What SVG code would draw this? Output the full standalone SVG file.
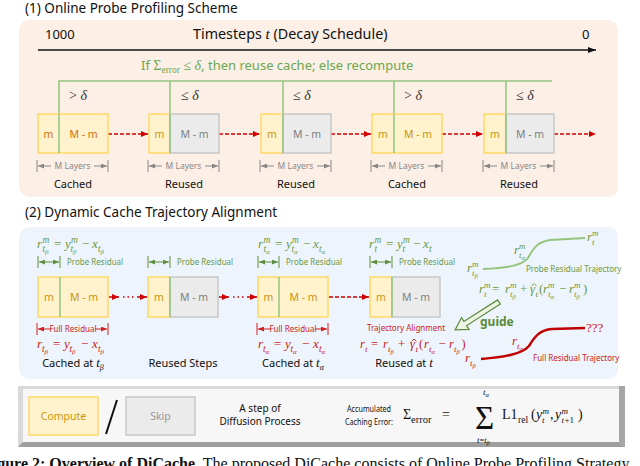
<svg xmlns="http://www.w3.org/2000/svg" width="640" height="466" viewBox="0 0 640 466">
<style>
.t{font-family:"Noto Sans","DejaVu Sans",sans-serif}
.ser{font-family:"Liberation Serif","Times New Roman",serif}
.it{font-style:italic}
.up{font-style:normal}
.ttl{font-size:13.5px;fill:#111}
.cy{fill:#fff2cc;stroke:#ffd966;stroke-width:1.5}
.cg{fill:#ebebeb;stroke:#c8c8c8;stroke-width:1.5}
.gl{stroke:#93c47d;stroke-width:1.5;fill:none}
.mt{font-size:10.5px;fill:#c8960c;text-anchor:middle}
.mo{font-size:10.5px;fill:#d0700a;text-anchor:middle}
.mg{font-size:10.5px;fill:#808080;text-anchor:middle}
.lbl{font-size:11px;fill:#111;text-anchor:middle}
.dim{font-size:8.5px;fill:#888;text-anchor:middle}
.dl{stroke:#888;stroke-width:1;fill:none}
.gdl{stroke:#5f8f3e;stroke-width:1;fill:none}
.rdl{stroke:#cc2222;stroke-width:1;fill:none}
.rd{stroke:#cc0000;stroke-width:1.5;stroke-dasharray:4 2;fill:none}
.rdot{stroke:#cc0000;stroke-width:1.5;stroke-dasharray:1.5 3;fill:none}
.gf{fill:#6a9a46}
.rf{fill:#cc2222}
.gs{font-size:8px;fill:#6a9a46}
.rs{font-size:8px;fill:#cc2222}
.dl14{font-size:14px;fill:#333}
.hatg{stroke:#6a9a46;stroke-width:0.9;fill:none}
.hatr{stroke:#cc2222;stroke-width:0.9;fill:none}
</style>
<defs>
<marker id="ab" markerWidth="8" markerHeight="6" refX="8" refY="3" orient="auto" markerUnits="userSpaceOnUse"><path d="M0,0 L8,3 L0,6 z" fill="#111"/></marker>
<marker id="ar" markerWidth="7" markerHeight="6" refX="7" refY="3" orient="auto" markerUnits="userSpaceOnUse"><path d="M0,0 L7,3 L0,6 z" fill="#cc0000"/></marker>
<marker id="agr" markerWidth="6" markerHeight="5" refX="6" refY="2.5" orient="auto" markerUnits="userSpaceOnUse"><path d="M0,0 L6,2.5 L0,5 z" fill="#888"/></marker>
<marker id="agn" markerWidth="6" markerHeight="5" refX="6" refY="2.5" orient="auto-start-reverse" markerUnits="userSpaceOnUse"><path d="M0,0 L6,2.5 L0,5 z" fill="#5f8f3e"/></marker>
<marker id="ard" markerWidth="6" markerHeight="5" refX="6" refY="2.5" orient="auto" markerUnits="userSpaceOnUse"><path d="M0,0 L6,2.5 L0,5 z" fill="#cc2222"/></marker>
</defs>

<!-- Section 1 -->
<text class="t ttl" x="25" y="13">(1) Online Probe Profiling Scheme</text>
<rect x="19" y="20" width="599" height="177" rx="10" fill="#fcefe6"/>
<text class="t" font-size="13" fill="#111" x="45" y="39">1000</text>
<text class="t" font-size="14.3" fill="#111" x="193" y="39">Timesteps <tspan class="ser it" font-size="15.5">t</tspan> (Decay Schedule)</text>
<text class="t" font-size="13" fill="#111" x="582" y="39">0</text>
<text class="t" font-size="13" fill="#6aa84f" x="141" y="70">If <tspan class="ser" font-size="14">Σ</tspan><tspan class="ser" font-size="9.5" dy="3">error</tspan><tspan class="ser" font-size="14" dy="-3"> ≤ </tspan><tspan class="ser it" font-size="14">δ</tspan>, then reuse cache; else recompute</text>

<g id="s1-connectors">
<line x1="38" y1="50" x2="596" y2="50" stroke="#111" stroke-width="1.5" marker-end="url(#ab)"/>
<path class="gl" d="M59,153 V81 H552 M170,81 V153 M283,81 V153 M394,81 V153 M506,81 V153"/>
<line class="rd" x1="108" y1="134" x2="148" y2="134" marker-end="url(#ar)"/>
<line class="rd" x1="219" y1="134" x2="260" y2="134" marker-end="url(#ar)"/>
<line class="rd" x1="331" y1="134" x2="371" y2="134" marker-end="url(#ar)"/>
<line class="rd" x1="442" y1="134" x2="483" y2="134" marker-end="url(#ar)"/>
<line class="rd" x1="554" y1="134" x2="596" y2="134" marker-end="url(#ar)"/>
</g>
<text class="ser dl14" x="69" y="100">&gt; <tspan class="it">δ</tspan></text>
<text class="ser dl14" x="181" y="100">≤ <tspan class="it">δ</tspan></text>
<text class="ser dl14" x="293" y="100">≤ <tspan class="it">δ</tspan></text>
<text class="ser dl14" x="404" y="100">&gt; <tspan class="it">δ</tspan></text>
<text class="ser dl14" x="516" y="100">≤ <tspan class="it">δ</tspan></text>

<g id="s1-n1" transform="translate(38,0)">
<rect class="cy" x="0" y="114" width="70" height="39"/>
<text class="t mo" x="10.5" y="137.5">m</text><text class="t mo" x="45.5" y="137.5">M - m</text>
<path class="dl" d="M-1,160 V172 M70,160 V172"/>
<line class="dl" x1="13" y1="166" x2="0" y2="166" marker-end="url(#agr)"/>
<line class="dl" x1="56" y1="166" x2="69" y2="166" marker-end="url(#agr)"/>
<text class="t dim" x="34.5" y="169">M Layers</text>
<text class="t lbl" x="35" y="188">Cached</text>
</g>
<g id="s1-n2" transform="translate(149,0)">
<rect class="cy" x="0" y="114" width="21" height="39"/><rect class="cg" x="21" y="114" width="49" height="39"/>
<text class="t mt" x="10.5" y="137.5">m</text><text class="t mg" x="45.5" y="137.5">M - m</text>
<path class="dl" d="M-1,160 V172 M70,160 V172"/>
<line class="dl" x1="13" y1="166" x2="0" y2="166" marker-end="url(#agr)"/>
<line class="dl" x1="56" y1="166" x2="69" y2="166" marker-end="url(#agr)"/>
<text class="t dim" x="34.5" y="169">M Layers</text>
<text class="t lbl" x="35" y="188">Reused</text>
</g>
<g id="s1-n3" transform="translate(261,0)">
<rect class="cy" x="0" y="114" width="22" height="39"/><rect class="cg" x="22" y="114" width="48" height="39"/>
<text class="t mt" x="11" y="137.5">m</text><text class="t mg" x="46" y="137.5">M - m</text>
<path class="dl" d="M-1,160 V172 M70,160 V172"/>
<line class="dl" x1="13" y1="166" x2="0" y2="166" marker-end="url(#agr)"/>
<line class="dl" x1="56" y1="166" x2="69" y2="166" marker-end="url(#agr)"/>
<text class="t dim" x="34.5" y="169">M Layers</text>
<text class="t lbl" x="35" y="188">Reused</text>
</g>
<g id="s1-n4" transform="translate(372,0)">
<rect class="cy" x="0" y="114" width="70" height="39"/>
<text class="t mt" x="11" y="137.5">m</text><text class="t mt" x="46" y="137.5">M - m</text>
<path class="dl" d="M-1,160 V172 M70,160 V172"/>
<line class="dl" x1="13" y1="166" x2="0" y2="166" marker-end="url(#agr)"/>
<line class="dl" x1="56" y1="166" x2="69" y2="166" marker-end="url(#agr)"/>
<text class="t dim" x="34.5" y="169">M Layers</text>
<text class="t lbl" x="35" y="188">Cached</text>
</g>
<g id="s1-n5" transform="translate(484,0)">
<rect class="cy" x="0" y="114" width="22" height="39"/><rect class="cg" x="22" y="114" width="48" height="39"/>
<text class="t mt" x="11" y="137.5">m</text><text class="t mg" x="46" y="137.5">M - m</text>
<path class="dl" d="M-1,160 V172 M70,160 V172"/>
<line class="dl" x1="13" y1="166" x2="0" y2="166" marker-end="url(#agr)"/>
<line class="dl" x1="56" y1="166" x2="69" y2="166" marker-end="url(#agr)"/>
<text class="t dim" x="34.5" y="169">M Layers</text>
<text class="t lbl" x="35" y="188">Reused</text>
</g>
<path class="gl" d="M59,153 V114 M170,153 V114 M283,153 V114 M394,153 V114 M506,153 V114"/>

<!-- Section 2 -->
<text class="t ttl" x="25" y="217">(2) Dynamic Cache Trajectory Alignment</text>
<rect x="19" y="227" width="599" height="152" rx="10" fill="#eef4fb"/>

<g id="s2-connectors">
<line class="rd" x1="109" y1="297" x2="119" y2="297" marker-end="url(#ar)"/>
<line class="rdot" x1="123" y1="297" x2="134" y2="297"/>
<line class="rd" x1="137" y1="297" x2="147" y2="297" marker-end="url(#ar)"/>
<line class="rd" x1="219" y1="297" x2="229" y2="297" marker-end="url(#ar)"/>
<line class="rdot" x1="233" y1="297" x2="244" y2="297"/>
<line class="rd" x1="247" y1="297" x2="257" y2="297" marker-end="url(#ar)"/>
<line class="rd" x1="329" y1="297" x2="369" y2="297" marker-end="url(#ar)"/>
</g>

<g id="s2-n1" transform="translate(38,0)">
<rect class="cy" x="0" y="277" width="70" height="40"/>
<line class="gl" x1="22" y1="277" x2="22" y2="317"/>
<text class="t mt" x="11" y="301">m</text><text class="t mt" x="46" y="301">M - m</text>
<path class="gdl" d="M0,256 V268 M22,256 V268"/>
<line class="gdl" x1="1" y1="262" x2="21" y2="262" marker-start="url(#agn)" marker-end="url(#agn)"/>
<text class="t gs" x="29" y="265">Probe Residual</text>
<path class="rdl" d="M-1,323 V335 M70,323 V335"/>
<line class="rdl" x1="13" y1="329" x2="0" y2="329" marker-end="url(#ard)"/>
<line class="rdl" x1="57" y1="329" x2="69" y2="329" marker-end="url(#ard)"/>
<text class="t rs" x="35" y="332" text-anchor="middle">Full Residual</text>
<text class="t lbl" x="35" y="367" font-size="11.5">Cached at <tspan class="ser it" font-size="13">t</tspan><tspan class="ser it" font-size="8" dy="3">β</tspan></text>
</g>
<g id="s2-n2" transform="translate(148,0)">
<rect class="cy" x="0" y="277" width="22" height="40"/><rect class="cg" x="22" y="277" width="48" height="40"/>
<line class="gl" x1="22" y1="277" x2="22" y2="317"/>
<text class="t mt" x="11" y="301">m</text><text class="t mg" x="46" y="301">M - m</text>
<path class="gdl" d="M0,256 V268 M22,256 V268"/>
<line class="gdl" x1="1" y1="262" x2="21" y2="262" marker-start="url(#agn)" marker-end="url(#agn)"/>
<text class="t gs" x="29" y="265">Probe Residual</text>
<text class="t lbl" x="35" y="367" font-size="11.5">Reused Steps</text>
</g>
<g id="s2-n3" transform="translate(258,0)">
<rect class="cy" x="0" y="277" width="70" height="40"/>
<line class="gl" x1="21" y1="277" x2="21" y2="317"/>
<text class="t mt" x="10.5" y="301">m</text><text class="t mt" x="45.5" y="301">M - m</text>
<path class="gdl" d="M0,256 V268 M21,256 V268"/>
<line class="gdl" x1="1" y1="262" x2="20" y2="262" marker-start="url(#agn)" marker-end="url(#agn)"/>
<text class="t gs" x="28" y="265">Probe Residual</text>
<path class="rdl" d="M-1,323 V335 M70,323 V335"/>
<line class="rdl" x1="13" y1="329" x2="0" y2="329" marker-end="url(#ard)"/>
<line class="rdl" x1="57" y1="329" x2="69" y2="329" marker-end="url(#ard)"/>
<text class="t rs" x="35" y="332" text-anchor="middle">Full Residual</text>
<text class="t lbl" x="35" y="367" font-size="11.5">Cached at <tspan class="ser it" font-size="13">t</tspan><tspan class="ser it" font-size="8" dy="3">α</tspan></text>
</g>
<g id="s2-n4" transform="translate(370,0)">
<rect class="cy" x="0" y="277" width="22" height="40"/><rect class="cg" x="22" y="277" width="48" height="40"/>
<line class="gl" x1="22" y1="277" x2="22" y2="317"/>
<text class="t mt" x="11" y="301">m</text><text class="t mg" x="46" y="301">M - m</text>
<path class="gdl" d="M0,256 V268 M22,256 V268"/>
<line class="gdl" x1="1" y1="262" x2="21" y2="262" marker-start="url(#agn)" marker-end="url(#agn)"/>
<text class="t gs" x="29" y="265">Probe Residual</text>
<text class="t rs" x="36" y="331" text-anchor="middle">Trajectory Alignment</text>
<text class="t lbl" x="34" y="367" font-size="11.5">Reused at <tspan class="ser it" font-size="13">t</tspan></text>
</g>

<!-- formulas above boxes (green) -->
<text class="ser it gf" font-size="13">
<tspan x="37" y="248">r</tspan><tspan x="42.5" y="243" font-size="9.5">m</tspan><tspan x="42.5" y="252" font-size="9.5">t</tspan><tspan x="45" y="254" font-size="7">β</tspan>
<tspan class="up" x="54" y="248">=</tspan>
<tspan x="65" y="248">y</tspan><tspan x="71" y="243" font-size="9.5">m</tspan><tspan x="70.5" y="252" font-size="9.5">t</tspan><tspan x="73" y="254" font-size="7">β</tspan>
<tspan class="up" x="82" y="248">−</tspan>
<tspan x="92" y="248">x</tspan><tspan x="98" y="252" font-size="9.5">t</tspan><tspan x="100.5" y="254" font-size="7">β</tspan>
</text>
<text class="ser it gf" font-size="13">
<tspan x="258" y="248">r</tspan><tspan x="263.5" y="243" font-size="9.5">m</tspan><tspan x="263.5" y="252" font-size="9.5">t</tspan><tspan x="266" y="254" font-size="7">α</tspan>
<tspan class="up" x="275" y="248">=</tspan>
<tspan x="286" y="248">y</tspan><tspan x="292" y="243" font-size="9.5">m</tspan><tspan x="291.5" y="252" font-size="9.5">t</tspan><tspan x="294" y="254" font-size="7">α</tspan>
<tspan class="up" x="303" y="248">−</tspan>
<tspan x="313" y="248">x</tspan><tspan x="319" y="252" font-size="9.5">t</tspan><tspan x="321.5" y="254" font-size="7">α</tspan>
</text>
<text class="ser it gf" font-size="13">
<tspan x="369" y="248">r</tspan><tspan x="374.5" y="243" font-size="9.5">m</tspan><tspan x="374.5" y="252" font-size="9.5">t</tspan>
<tspan class="up" x="386" y="248">=</tspan>
<tspan x="397" y="248">y</tspan><tspan x="403" y="243" font-size="9.5">m</tspan><tspan x="402.5" y="252" font-size="9.5">t</tspan>
<tspan class="up" x="413" y="248">−</tspan>
<tspan x="423" y="248">x</tspan><tspan x="429" y="252" font-size="9.5">t</tspan>
</text>

<!-- formulas below boxes (red) -->
<text class="ser it rf" font-size="13">
<tspan x="37" y="348">r</tspan><tspan x="42" y="351.5" font-size="9.5">t</tspan><tspan x="44.5" y="353.5" font-size="7">β</tspan>
<tspan class="up" x="53" y="348">=</tspan>
<tspan x="64" y="348">y</tspan><tspan x="69.5" y="351.5" font-size="9.5">t</tspan><tspan x="72" y="353.5" font-size="7">β</tspan>
<tspan class="up" x="81" y="348">−</tspan>
<tspan x="92" y="348">x</tspan><tspan x="98" y="351.5" font-size="9.5">t</tspan><tspan x="100.5" y="353.5" font-size="7">β</tspan>
</text>
<text class="ser it rf" font-size="13">
<tspan x="258" y="348">r</tspan><tspan x="263" y="351.5" font-size="9.5">t</tspan><tspan x="265.5" y="353.5" font-size="7">α</tspan>
<tspan class="up" x="274" y="348">=</tspan>
<tspan x="285" y="348">y</tspan><tspan x="290.5" y="351.5" font-size="9.5">t</tspan><tspan x="293" y="353.5" font-size="7">α</tspan>
<tspan class="up" x="302" y="348">−</tspan>
<tspan x="313" y="348">x</tspan><tspan x="319" y="351.5" font-size="9.5">t</tspan><tspan x="321.5" y="353.5" font-size="7">α</tspan>
</text>
<text class="ser it rf" font-size="12.5">
<tspan x="360" y="348">r</tspan><tspan x="365" y="351.5" font-size="9">t</tspan>
<tspan class="up" x="371" y="348">=</tspan>
<tspan x="383" y="348">r</tspan><tspan x="388" y="351.5" font-size="9">t</tspan><tspan x="390.5" y="353.5" font-size="6.5">β</tspan>
<tspan class="up" x="398" y="348">+</tspan>
<tspan x="410" y="348">γ</tspan><tspan x="415.5" y="351.5" font-size="9">t</tspan>
<tspan class="up" x="419" y="348">(</tspan>
<tspan x="424" y="348">r</tspan><tspan x="429" y="351.5" font-size="9">t</tspan><tspan x="431.5" y="353.5" font-size="6.5">α</tspan>
<tspan class="up" x="438.5" y="348">−</tspan>
<tspan x="449" y="348">r</tspan><tspan x="454" y="351.5" font-size="9">t</tspan><tspan x="456.5" y="353.5" font-size="6.5">β</tspan>
<tspan class="up" x="461.5" y="348">)</tspan>
</text>
<path class="hatr" d="M411.5,341.5 L414,339 L416.5,341.5"/>

<!-- trajectories -->
<g id="probe-trajectory">
<path d="M483,269 C505,268 522,266 528,258 C534,247 538,242 550,240 L585,238" stroke="#93c47d" stroke-width="2" fill="none"/>
<text class="ser it gf" font-size="13">
<tspan x="467" y="272">r</tspan><tspan x="472" y="267" font-size="9">m</tspan><tspan x="472" y="276" font-size="9">t</tspan><tspan x="474.5" y="278" font-size="6.5">β</tspan>
</text>
<text class="ser it gf" font-size="13">
<tspan x="514" y="254">r</tspan><tspan x="519" y="249" font-size="9">m</tspan><tspan x="519" y="258" font-size="9">t</tspan><tspan x="521.5" y="260" font-size="6.5">α</tspan>
</text>
<text class="ser it gf" font-size="13">
<tspan x="587" y="241">r</tspan><tspan x="592" y="236" font-size="9">m</tspan><tspan x="592" y="245" font-size="9">t</tspan>
</text>
<text class="t gs" x="526" y="272">Probe Residual Trajectory</text>
</g>
<text class="ser it gf" font-size="13">
<tspan x="479" y="293">r</tspan><tspan x="484" y="288" font-size="9">m</tspan><tspan x="484" y="297" font-size="9">t</tspan>
<tspan class="up" x="492" y="293">=</tspan>
<tspan x="505" y="293">r</tspan><tspan x="510" y="288" font-size="9">m</tspan><tspan x="510" y="297" font-size="9">t</tspan><tspan x="512.5" y="299" font-size="6.5">β</tspan>
<tspan class="up" x="520" y="293">+</tspan>
<tspan x="530" y="293">γ</tspan><tspan x="535.5" y="297" font-size="9">t</tspan>
<tspan class="up" x="539" y="293">(</tspan>
<tspan x="543" y="293">r</tspan><tspan x="548" y="288" font-size="9">m</tspan><tspan x="548" y="297" font-size="9">t</tspan><tspan x="550.5" y="299" font-size="6.5">α</tspan>
<tspan class="up" x="559" y="293">−</tspan>
<tspan x="569" y="293">r</tspan><tspan x="574" y="288" font-size="9">m</tspan><tspan x="574" y="297" font-size="9">t</tspan><tspan x="576.5" y="299" font-size="6.5">β</tspan>
<tspan class="up" x="583" y="293">)</tspan>
</text>
<path class="hatg" d="M531.5,286 L534,283.5 L536.5,286"/>
<g id="guide">
<polygon points="0,-2.5 40,-2.5 40,-7 52,0 40,7 40,2.5 0,2.5" transform="translate(499,302) rotate(147.5)" fill="#eef5e4" stroke="#5a8a3a" stroke-width="1.2"/>
<text class="t" font-size="12" fill="#5a8a3a" font-weight="bold" x="480" y="326">guide</text>
</g>
<g id="full-trajectory">
<path d="M481,359 C505,357 522,354 529,346 C535,336 540,330 552,329 L585,328" stroke="#c00000" stroke-width="2.5" fill="none"/>
<text class="ser it rf" font-size="13">
<tspan x="465" y="362">r</tspan><tspan x="470" y="365.5" font-size="9">t</tspan><tspan x="472.5" y="367.5" font-size="6.5">β</tspan>
</text>
<text class="ser it rf" font-size="13">
<tspan x="512" y="345">r</tspan><tspan x="517" y="348.5" font-size="9">t</tspan><tspan x="519.5" y="350.5" font-size="6.5">α</tspan>
</text>
<text class="ser rf" font-size="13" x="586" y="332">???</text>
<text class="t rs" x="533" y="361">Full Residual Trajectory</text>
</g>

<!-- legend -->
<g id="legend">
<rect x="18" y="386" width="607" height="61" fill="#d9d9d9"/>
<polygon points="619,386 625,386 625,447 619,442" fill="#a6a6a6"/>
<polygon points="18,447 625,447 619,442 23,442" fill="#9e9e9e"/>
<rect x="23" y="389" width="596" height="53" fill="#f7f7f7"/>
<rect class="cy" x="29" y="397" width="69" height="38"/>
<text class="t" font-size="10.5" fill="#c8960c" text-anchor="middle" x="63.5" y="420">Compute</text>
<line x1="106" y1="434" x2="117" y2="400" stroke="#111" stroke-width="2"/>
<rect class="cg" x="126" y="397" width="69" height="38"/>
<text class="t" font-size="10.5" fill="#999" text-anchor="middle" x="160.5" y="420">Skip</text>
<text class="t" font-size="10" fill="#111" text-anchor="middle" x="260" y="412">A step of</text>
<text class="t" font-size="10" fill="#111" text-anchor="middle" x="260" y="425">Diffusion Process</text>
<text class="t" font-size="8" fill="#111" text-anchor="middle" x="369" y="412" textLength="44" lengthAdjust="spacingAndGlyphs">Accumulated</text>
<text class="t" font-size="8" fill="#111" text-anchor="middle" x="369" y="425" textLength="48" lengthAdjust="spacingAndGlyphs">Caching Error:</text>
<text class="ser" font-size="14" fill="#111">
<tspan x="403" y="419">Σ</tspan><tspan x="411" y="422.5" font-size="10.5">error</tspan>
<tspan x="442" y="419">=</tspan>
</text>
<text class="ser" font-size="33" fill="#111" x="475" y="429">Σ</text>
<text class="ser it" font-size="9" fill="#111" x="483" y="395">t<tspan font-size="6.5" dy="1.5">α</tspan></text>
<text class="ser it" font-size="8.5" fill="#111" x="477" y="443">t<tspan class="up">=</tspan>t<tspan font-size="6" dy="2">β</tspan></text>
<text class="ser" font-size="14" fill="#111">
<tspan x="502" y="419">L1</tspan><tspan x="518" y="422.5" font-size="9.5">rel</tspan>
<tspan x="531" y="419">(</tspan>
<tspan class="it" x="536" y="419">y</tspan><tspan class="it" x="542.5" y="414" font-size="9">m</tspan><tspan class="it" x="542" y="423" font-size="9">t</tspan>
<tspan x="550" y="419">,</tspan>
<tspan class="it" x="555" y="419">y</tspan><tspan class="it" x="561.5" y="414" font-size="9">m</tspan><tspan class="it" x="561.5" y="423" font-size="9">t</tspan><tspan x="564.5" y="423" font-size="9">+1</tspan>
<tspan x="578" y="419">)</tspan>
</text>
</g>

<text class="ser" font-size="16" fill="#111" x="-17" y="469"><tspan font-weight="bold">Figure 2: Overview of DiCache.</tspan> The proposed DiCache consists of Online Probe Profiling Strategy</text>
</svg>
